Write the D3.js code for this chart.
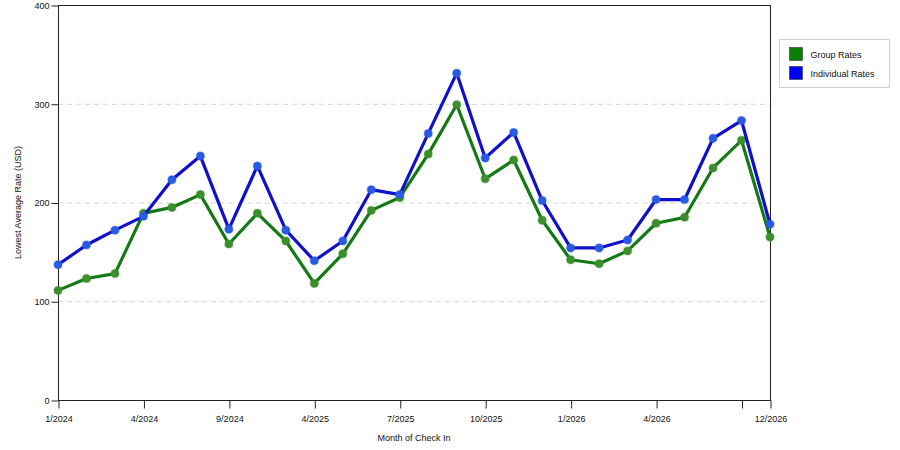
<!DOCTYPE html>
<html lang="en">
<head>
    <meta charset="UTF-8">
    <title>Lowest Average Rate</title>
    <script src="https://d3js.org/d3.v7.min.js"></script>
    <style>
        body { margin: 0; background: #fff; }
        text { font-family: "Liberation Sans", Arial, sans-serif; font-size: 9px; fill: #111; }
    </style>
</head>
<body>
    <div id="chart"></div>
    <script>
        // data
        var groupRates = [111, 123, 128, 189, 195, 208, 158, 189, 161, 118, 148, 192, 205,
                          249, 299, 224, 243, 182, 142, 138, 151, 179, 185, 235, 263, 165];
        var individualRates = [137, 157, 172, 186, 223, 247, 173, 237, 172, 141, 161, 213, 208,
                               270, 331, 245, 271, 202, 154, 154, 162, 203, 203, 265, 283, 178];
        var tickIndex = [0, 3, 6, 9, 12, 15, 18, 21, 24, 25];
        var tickLabels = ["1/2024", "4/2024", "9/2024", "4/2025", "7/2025", "10/2025",
                          "1/2026", "4/2026", "", "12/2026"];
        var yTicks = [0, 100, 200, 300, 400];
        var seriesNames = ["Group Rates", "Individual Rates"];

        var w = 900, h = 450;
        var pLeft = 58, pRight = 770, pTop = 5, pBottom = 400;

        var svg = d3.select("#chart").append("svg")
            .attr("width", w).attr("height", h);

        var x = d3.scalePoint()
            .domain(d3.range(groupRates.length))
            .range([pLeft, pRight]);
        var y = d3.scaleLinear().domain([0, 400]).range([pBottom, pTop]);

        // grid lines
        svg.selectAll("line.grid")
            .data([100, 200, 300])
            .enter().append("line")
            .attr("class", "grid")
            .attr("x1", pLeft).attr("x2", pRight)
            .attr("y1", function(d) { return y(d) + 0.5; })
            .attr("y2", function(d) { return y(d) + 0.5; })
            .attr("stroke", "#d4d4d4")
            .attr("stroke-dasharray", "5,4");

        // frame
        svg.append("rect")
            .attr("x", pLeft + 0.5).attr("y", pTop + 0.5)
            .attr("width", pRight - pLeft).attr("height", pBottom - pTop)
            .attr("fill", "none").attr("stroke", "#222");

        // y axis
        var yAxis = svg.append("g")
            .attr("transform", "translate(" + (pLeft + 0.5) + ",0.5)")
            .call(d3.axisLeft(y).tickValues(yTicks).tickSize(7).tickPadding(2));
        yAxis.select(".domain").remove();
        yAxis.selectAll("line").attr("stroke", "#222");
        yAxis.selectAll("text").style("font-size", "9px").attr("fill", "#111");

        // x axis
        var xAxis = svg.append("g")
            .attr("transform", "translate(0.5," + (pBottom + 0.5) + ")")
            .call(d3.axisBottom(x).tickValues(tickIndex).tickSize(8).tickPadding(7)
                .tickFormat(function(d) { return tickLabels[tickIndex.indexOf(d)]; }));
        xAxis.select(".domain").remove();
        xAxis.selectAll("line").attr("stroke", "#222");
        xAxis.selectAll("text").style("font-size", "9px").attr("fill", "#111");

        // axis titles
        svg.append("text")
            .attr("x", (pLeft + pRight) / 2).attr("y", 441)
            .attr("text-anchor", "middle")
            .text("Month of Check In");
        svg.append("text")
            .attr("transform", "translate(21," + ((pTop + pBottom) / 2) + ") rotate(-90)")
            .attr("text-anchor", "middle")
            .text("Lowest Average Rate (USD)");

        // series
        var series = [
            { name: seriesNames[0], values: groupRates, line: "#157a15", dot: "#3c8f2c", swatch: "#0a800a" },
            { name: seriesNames[1], values: individualRates, line: "#1010cc", dot: "#2a5ae0", swatch: "#0000f5" }
        ];

        var line = d3.line()
            .x(function(d, i) { return x(i); })
            .y(function(d) { return y(d); });

        series.forEach(function(s) {
            svg.append("path")
                .datum(s.values)
                .attr("d", line)
                .attr("fill", "none")
                .attr("stroke", s.line)
                .attr("stroke-width", 3.2)
                .attr("stroke-linejoin", "round");

            svg.selectAll(null)
                .data(s.values)
                .enter().append("circle")
                .attr("cx", function(d, i) { return x(i); })
                .attr("cy", function(d) { return y(d); })
                .attr("r", 4)
                .attr("fill", s.dot)
                .attr("stroke", s.dot)
                .attr("stroke-opacity", 0.4)
                .attr("stroke-width", 1.5);
        });

        // legend
        var lg = svg.append("g").attr("transform", "translate(779.5,39.5)");
        lg.append("rect")
            .attr("width", 110).attr("height", 48)
            .attr("fill", "#fff").attr("stroke", "#d0d0d0");
        var item = lg.selectAll("g.item")
            .data(series)
            .enter().append("g")
            .attr("transform", function(d, i) { return "translate(10," + (8 + i * 19) + ")"; });
        item.append("rect")
            .attr("width", 13).attr("height", 13)
            .attr("fill", function(d) { return d.swatch; })
            .attr("stroke", "#333").attr("stroke-width", 0.6);
        item.append("text")
            .attr("x", 21).attr("y", 10)
            .text(function(d) { return d.name; });
    </script>
</body>
</html>
